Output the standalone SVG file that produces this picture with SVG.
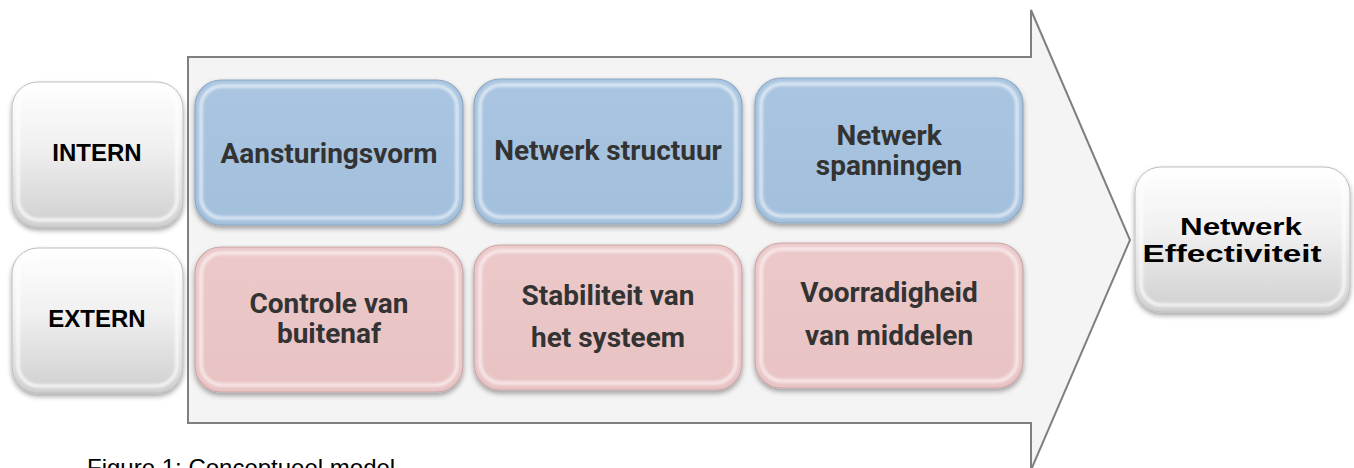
<svg xmlns="http://www.w3.org/2000/svg" width="1354" height="468" viewBox="0 0 1354 468">
  <defs>
    <filter id="shadow" x="-10%" y="-10%" width="120%" height="130%">
      <feDropShadow dx="0" dy="3" stdDeviation="2.5" flood-color="#000" flood-opacity="0.35"/>
    </filter>
    <filter id="soft" x="-10%" y="-10%" width="120%" height="120%">
      <feGaussianBlur stdDeviation="1.6"/>
    </filter>
    <linearGradient id="grayFill" x1="0" y1="0" x2="0" y2="1">
      <stop offset="0" stop-color="#ffffff"/>
      <stop offset="0.45" stop-color="#f0f0f0"/>
      <stop offset="1" stop-color="#cfcfcf"/>
    </linearGradient>
    <linearGradient id="blueFill" x1="0" y1="0" x2="0" y2="1">
      <stop offset="0" stop-color="#a9c5e1"/>
      <stop offset="1" stop-color="#a2bfdc"/>
    </linearGradient>
    <linearGradient id="pinkFill" x1="0" y1="0" x2="0" y2="1">
      <stop offset="0" stop-color="#ecc8c9"/>
      <stop offset="1" stop-color="#e9c3c4"/>
    </linearGradient>
  </defs>
  <style>
    .arrow { fill: #f4f4f4; stroke: #7f7f7f; stroke-width: 2; }
    .gray { fill: url(#grayFill); stroke: #bdbdbd; stroke-width: 1; }
    .blue { fill: url(#blueFill); stroke: #8ea8c3; stroke-width: 1.2; }
    .pink { fill: url(#pinkFill); stroke: #c9a7a8; stroke-width: 1.2; }
    .hl { fill: none; stroke: #ffffff; stroke-opacity: 0.75; stroke-width: 3; }
    .hlg { fill: none; stroke: #ffffff; stroke-opacity: 0.9; stroke-width: 3; }
    .lbl { font-family: "Liberation Sans", Arial, sans-serif; font-weight: bold; font-size: 24px; fill: #000; text-anchor: middle; }
    .box { font-family: Roboto, "Noto Sans", sans-serif; font-weight: bold; font-size: 28px; fill: #333333; text-anchor: middle; }
    .cap { font-family: "Liberation Sans", Arial, sans-serif; font-size: 24px; fill: #000; }
  </style>

  <g id="connectors">
    <polygon id="big-arrow" class="arrow" points="188,57 1031,57 1031,10 1130,240 1031,470 1031,423 188,423"/>
  </g>

  <g id="intern">
    <rect class="gray" x="12" y="82" width="171" height="145" rx="26" filter="url(#shadow)"/>
    <rect class="hlg" x="18" y="87" width="159" height="133" rx="21" filter="url(#soft)"/>
    <text class="lbl" x="97" y="161">INTERN</text>
  </g>
  <g id="extern">
    <rect class="gray" x="12" y="248" width="171" height="145" rx="26" filter="url(#shadow)"/>
    <rect class="hlg" x="18" y="253" width="159" height="133" rx="21" filter="url(#soft)"/>
    <text class="lbl" x="97" y="327">EXTERN</text>
  </g>

  <g id="aansturingsvorm">
    <rect class="blue" x="195" y="80" width="268" height="145" rx="26" filter="url(#shadow)"/>
    <rect class="hl" x="201" y="86" width="256" height="132" rx="21" filter="url(#soft)"/>
    <text class="box" x="329" y="163">Aansturingsvorm</text>
  </g>
  <g id="netwerk-structuur">
    <rect class="blue" x="474" y="79" width="268" height="145" rx="26" filter="url(#shadow)"/>
    <rect class="hl" x="480" y="85" width="256" height="132" rx="21" filter="url(#soft)"/>
    <text class="box" x="608" y="160">Netwerk structuur</text>
  </g>
  <g id="netwerk-spanningen">
    <rect class="blue" x="755" y="78" width="268" height="145" rx="26" filter="url(#shadow)"/>
    <rect class="hl" x="761" y="84" width="256" height="132" rx="21" filter="url(#soft)"/>
    <text class="box" x="889" y="145">Netwerk</text>
    <text class="box" x="889" y="175">spanningen</text>
  </g>

  <g id="controle-van-buitenaf">
    <rect class="pink" x="195" y="247" width="268" height="145" rx="26" filter="url(#shadow)"/>
    <rect class="hl" x="201" y="253" width="256" height="132" rx="21" filter="url(#soft)"/>
    <text class="box" x="329" y="313">Controle van</text>
    <text class="box" x="329" y="343">buitenaf</text>
  </g>
  <g id="stabiliteit-van-het-systeem">
    <rect class="pink" x="474" y="245" width="268" height="145" rx="26" filter="url(#shadow)"/>
    <rect class="hl" x="480" y="251" width="256" height="132" rx="21" filter="url(#soft)"/>
    <text class="box" x="608" y="305">Stabiliteit van</text>
    <text class="box" x="608" y="347">het systeem</text>
  </g>
  <g id="voorradigheid-van-middelen">
    <rect class="pink" x="755" y="243" width="268" height="145" rx="26" filter="url(#shadow)"/>
    <rect class="hl" x="761" y="249" width="256" height="132" rx="21" filter="url(#soft)"/>
    <text class="box" x="889" y="302">Voorradigheid</text>
    <text class="box" x="889" y="345">van middelen</text>
  </g>

  <g id="netwerk-effectiviteit">
    <rect class="gray" x="1135" y="167" width="215" height="145" rx="26" filter="url(#shadow)"/>
    <rect class="hlg" x="1141" y="172" width="203" height="133" rx="21" filter="url(#soft)"/>
    <text class="lbl" x="1241" y="235" font-size="25" textLength="122" lengthAdjust="spacingAndGlyphs">Netwerk</text>
    <text class="lbl" x="1232" y="262" font-size="25" textLength="179" lengthAdjust="spacingAndGlyphs">Effectiviteit</text>
  </g>

  <g id="caption">
    <text class="cap" x="87" y="476">Figure 1: Conceptueel model</text>
  </g>
</svg>
